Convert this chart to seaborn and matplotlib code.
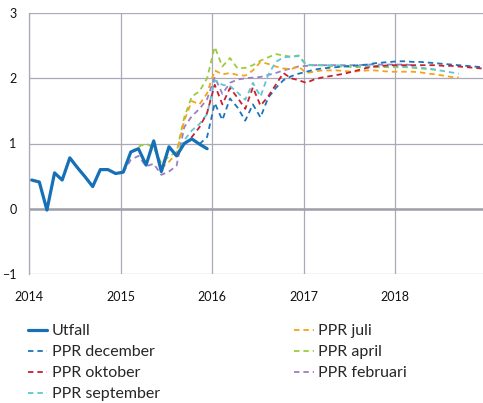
import numpy as np
import pandas as pd
import seaborn as sns
from matplotlib import pyplot as plt

# month index 0 = Jan 2014
utfall = [0.44, 0.41, -0.02, 0.55, 0.44, 0.78, 0.63, 0.49, 0.34, 0.60, 0.60, 0.54,
          0.56, 0.87, 0.92, 0.67, 1.04, 0.57, 0.95, 0.81, 1.00, 1.07, 0.99, 0.92]

ppr_februari = [0.56, 0.75, 0.81, 0.65, 0.69, 0.52, 0.57, 0.66, 1.25, 1.42, 1.53, 1.68,
                2.02, 1.76, 1.93, 1.98, 2.00, 2.01, 2.02, 2.05, 2.08, 2.12, 2.15, 2.18,
                2.19, 2.20, 2.20, 2.20, 2.20, 2.20, 2.20, 2.20, 2.21, 2.21, 2.21, 2.21,
                2.21, 2.21, 2.20]
ppr_april = [0.87, 0.95, 1.00, 0.93, 0.70, 0.80, 0.87, 1.40, 1.72, 1.80, 2.00,
             2.48, 2.18, 2.31, 2.15, 2.16, 2.20, 2.27, 2.32, 2.37, 2.35, 2.33, 2.35,
             2.21, 2.20, 2.20, 2.19, 2.18, 2.18, 2.17, 2.17, 2.17, 2.17, 2.17, 2.17,
             2.17, 2.17, 2.16, 2.15, 2.14, 2.13]
ppr_juli = [0.62, 0.72, 0.85, 1.35, 1.65, 1.60, 1.77,
            2.12, 2.06, 2.08, 2.05, 2.04, 2.12, 2.25, 2.22, 2.18, 2.15, 2.14, 2.18,
            2.08, 2.10, 2.12, 2.12, 2.12, 2.11, 2.10, 2.11, 2.12, 2.12, 2.11, 2.10,
            2.10, 2.10, 2.10, 2.09, 2.07, 2.06, 2.04, 2.02, 2.01]
ppr_september = [0.81, 1.05, 1.20, 1.30, 1.45,
                 1.97, 1.90, 1.88, 1.78, 1.67, 1.93, 1.72, 2.05, 2.25, 2.32, 2.33, 2.34,
                 2.20, 2.20, 2.20, 2.20, 2.20, 2.19, 2.19, 2.19, 2.19, 2.19, 2.19, 2.19,
                 2.19, 2.18, 2.17, 2.16, 2.15, 2.13, 2.11, 2.09, 2.07]
ppr_oktober = [0.99, 1.10, 1.25, 1.47,
               1.90, 1.60, 1.85, 1.70, 1.53, 1.86, 1.58, 1.72, 1.90, 2.08, 2.00, 1.97,
               1.93, 1.98, 2.01, 2.03, 2.05, 2.07, 2.10, 2.13, 2.16, 2.18, 2.19, 2.20,
               2.20, 2.20, 2.20, 2.20, 2.20, 2.20, 2.19, 2.19, 2.18, 2.17, 2.16, 2.15]
ppr_december = [0.99, 1.10,
                1.62, 1.36, 1.69, 1.55, 1.35, 1.60, 1.40, 1.70, 1.85, 1.97, 2.03, 2.07,
                2.10, 2.13, 2.15, 2.16, 2.17, 2.18, 2.19, 2.20, 2.21, 2.23, 2.24, 2.25,
                2.26, 2.26, 2.25, 2.25, 2.24, 2.23, 2.22, 2.21, 2.20, 2.19, 2.18, 2.17]

# (label, values, first month index, colour)
series = [
    ('PPR februari', ppr_februari, 12, '#9b7fc2'),
    ('PPR april', ppr_april, 13, '#9dcb3c'),
    ('PPR juli', ppr_juli, 17, '#f7a21b'),
    ('PPR september', ppr_september, 19, '#5cc6d6'),
    ('PPR december', ppr_december, 22, '#1a75bc'),
    ('PPR oktober', ppr_oktober, 20, '#c8202f'),
]
legend_order = ['Utfall', 'PPR december', 'PPR oktober', 'PPR september',
                'PPR juli', 'PPR april', 'PPR februari']


def to_year(start, n):
    idx = np.arange(start, start + n)
    return 2014 + (idx + 0.35) / 12


sns.set_style('white')
plt.rcParams['font.family'] = ['Lato', 'DejaVu Sans']

fig = plt.figure(figsize=(4.83, 4.03), dpi=100)
ax = fig.add_axes([29 / 483, 1 - 274 / 403, 1 - 29 / 483, 261 / 403])

handles = {}
for label, vals, start, col in series:
    sns.lineplot(x=to_year(start, len(vals)), y=vals, ax=ax, color=col,
                 linewidth=1.3, dashes=False, label=label)
    ln = ax.lines[-1]
    ln.set_linestyle((0, (3, 2.2)))
    handles[label] = ln

sns.lineplot(x=to_year(0, len(utfall)), y=utfall, ax=ax, color='#1570b8',
             linewidth=2.3, label='Utfall')
handles['Utfall'] = ax.lines[-1]

ax.set_xlim(2014, 2018.96)
ax.set_ylim(-1, 3)
ax.set_xticks([2014, 2015, 2016, 2017, 2018])
ax.set_xticklabels(['2014', '2015', '2016', '2017', '2018'])
ax.set_yticks([-1, 0, 1, 2, 3])
ax.tick_params(length=0, labelsize=9, colors='#111111')
ax.tick_params(axis='x', pad=12)
ax.tick_params(axis='y', pad=9)
ax.grid(True, color='#a9a9b8', linewidth=0.9)
ax.axhline(0, color='#a0a0ab', linewidth=1.8, zorder=1)
for s in ['top', 'right', 'bottom']:
    ax.spines[s].set_visible(False)
ax.spines['left'].set_color('#a9a9b8')
ax.spines['left'].set_linewidth(0.9)
ax.set_xlabel('')
ax.set_ylabel('')
ax.get_legend().remove()

fig.legend([handles[k] for k in legend_order], legend_order, ncol=2,
           loc='upper left', bbox_to_anchor=(0.045, 0.2115), frameon=False,
           fontsize=11.5, handlelength=1.2, handletextpad=0.3, labelspacing=0.43,
           columnspacing=8.4, borderaxespad=0)

fig.savefig('out.png', dpi=100)
